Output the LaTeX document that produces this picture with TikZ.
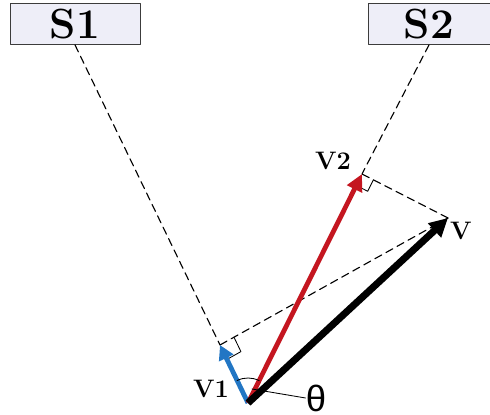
\documentclass[tikz,border=0pt]{standalone}
\usepackage{fontspec}
\newfontfamily\thetafont{Liberation Sans}
\usetikzlibrary{arrows.meta, calc}

\definecolor{vred}{RGB}{196,22,32}
\definecolor{vblue}{RGB}{34,118,196}
\definecolor{boxfill}{RGB}{238,238,248}
\definecolor{boxline}{RGB}{60,60,60}

\begin{document}
\begin{tikzpicture}[x=0.25mm,y=0.25mm,line cap=round,line join=round,
  every node/.style={font=\fontsize{18}{20}\selectfont\bfseries},
  sensor/.style={draw=boxline,fill=boxfill,line width=0.6pt,minimum height=10.25mm,
    inner sep=0pt,font=\fontsize{30}{34}\selectfont\bfseries},
  guide/.style={line width=0.8pt,dash pattern=on 5.5pt off 3.5pt},
  thin line/.style={line width=0.6pt},
  vec/.style={line width=#1,line cap=butt},
  vec/.default=3.4pt]
  \useasboundingbox (0,0) rectangle (490,415);
  % ---- sensors -----------------------------------------------------------
  \node[sensor,minimum width=32.5mm] (s1) at (75,391) {S1};
  \node[sensor,minimum width=30.5mm] (s2) at (429,391) {S2};
  % ---- vector end points ---------------------------------------------------
  \coordinate (o) at (248,12);
  \coordinate (v) at (448,197);
  \coordinate (v2) at (362,241);
  \coordinate (v1) at (220,70);
  % ---- sight lines and projections -----------------------------------------
  \draw[guide] (s1.south) -- (v1);
  \draw[guide] (s2.south) -- (v2);
  \draw[guide] (v) -- (v2);
  \draw[guide] (v) -- (v1);
  % ---- right angle marks ---------------------------------------------------
  \draw[thin line] ($(v2)!3.2mm!(o)$)
    -- ($($(v2)!3.2mm!(o)$)+($(v2)!3.2mm!(v)$)-(v2)$)
    -- ($(v2)!3.2mm!(v)$);
  \draw[thin line] ($(v1)!4mm!(o)$)
    -- ($($(v1)!4mm!(o)$)+($(v1)!4mm!(v)$)-(v1)$)
    -- ($(v1)!4mm!(v)$);
  % ---- vectors ---------------------------------------------------------------
  \draw[vec,vblue,-{Triangle[length=3.6mm,width=3.8mm]}] (o) -- (v1);
  \draw[vec,vred,-{Triangle[length=4.2mm,width=4mm]}] (o) -- (v2);
  \draw[vec=5pt,black,-{Triangle[length=4.6mm,width=4.6mm]}] (o) -- (v);
  % ---- angle -------------------------------------------------------------
  \draw[thin line] ($(o)+(63.5:25)$) arc[start angle=63.5,end angle=115.8,radius=25];
  \node[font=\thetafont\fontsize{26}{28}\selectfont,inner sep=0pt] (theta) at (316,17) {θ};
  \coordinate (tfoot) at (252,26);
  \draw[thin line] (tfoot) -- (theta.west);
  % ---- labels ----------------------------------------------------------------
  \node (lv1) at (211,26) {V1};
  \node (lv2) at (333,254) {V2};
  \node (lv) at (461,184) {V};
\end{tikzpicture}
\end{document}
